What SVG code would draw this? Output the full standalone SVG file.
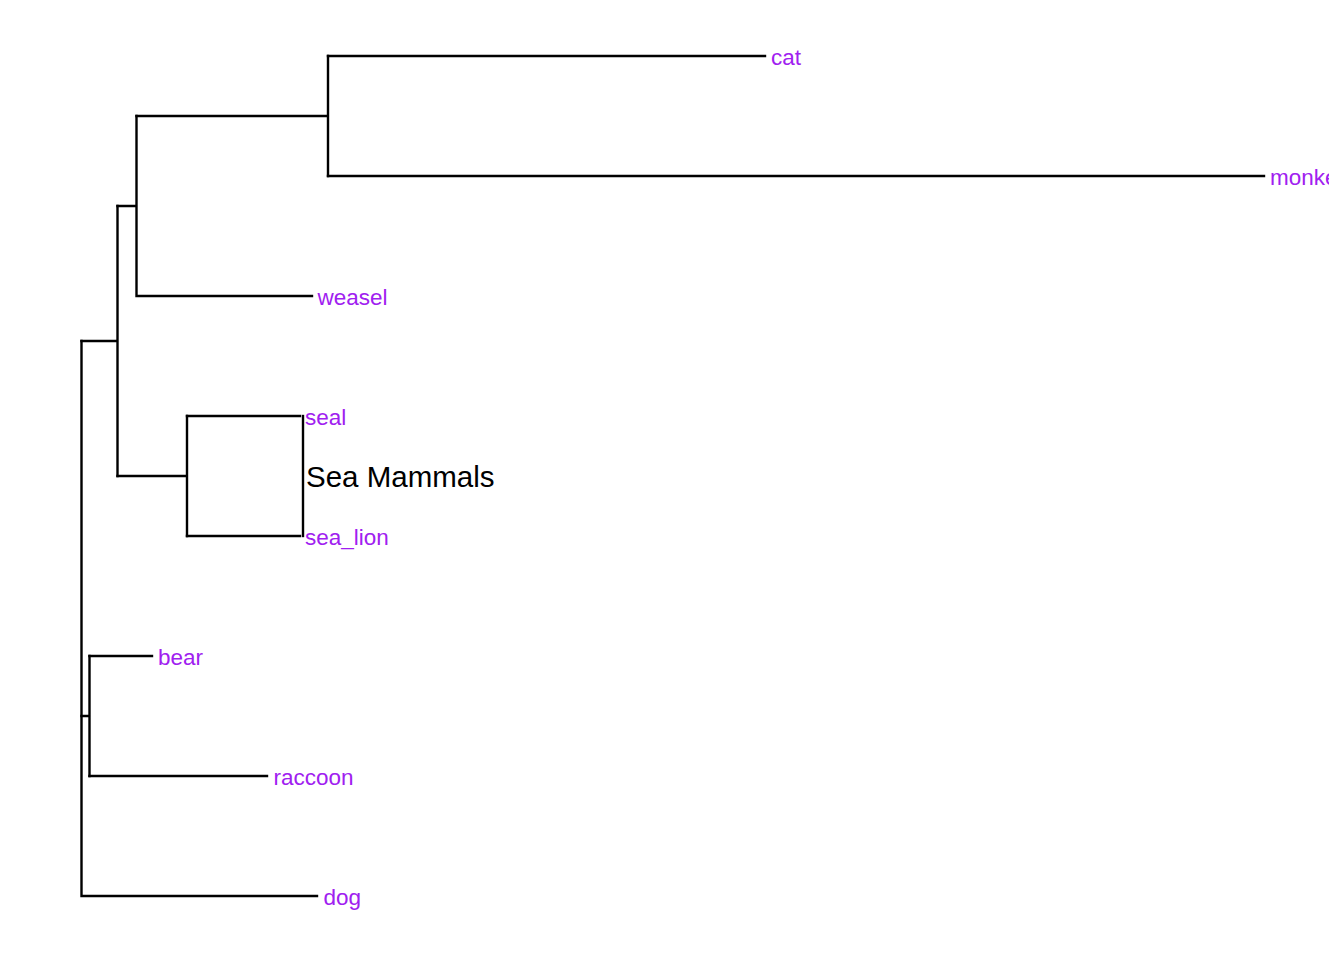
<svg xmlns="http://www.w3.org/2000/svg" width="1344" height="960" viewBox="0 0 1344 960">
<style>
.e{stroke:#000;stroke-width:2.4;fill:none;stroke-linecap:square}
.t{font-family:"Liberation Sans",Arial,sans-serif;font-size:22.5px;fill:#A020F0}
.c{font-family:"Liberation Sans",Arial,sans-serif;font-size:29.5px;fill:#000}
</style>
<defs><clipPath id="clip"><rect x="0" y="0" width="1329" height="960"/></clipPath></defs>
<rect width="1344" height="960" fill="#fff"/>
<g id="connectors" class="e">
<path d="M81.5,341 V896 H317"/>
<path d="M81.5,341 H117.5 M117.5,206 V476"/>
<path d="M117.5,206 H136.5 M136.5,116 V296 H312"/>
<path d="M136.5,116 H328 M328,56 V176"/>
<path d="M328,56 H765"/>
<path d="M328,176 H1264"/>
<path d="M117.5,476 H187 M187,416 V536"/>
<path d="M187,416 H300"/>
<path d="M187,536 H300"/>
<path d="M81.5,716 H89.5 M89.5,656 V776"/>
<path d="M89.5,656 H152"/>
<path d="M89.5,776 H267"/>
</g>
<g id="node-cat"><text class="t" x="771" y="65">cat</text></g>
<g id="node-monkey" clip-path="url(#clip)"><text class="t" x="1270" y="185">monkey</text></g>
<g id="node-weasel"><text class="t" x="317.5" y="305">weasel</text></g>
<g id="node-seal"><text class="t" x="305" y="425">seal</text></g>
<g id="node-sea_lion"><text class="t" x="305" y="545">sea_lion</text></g>
<g id="node-bear"><text class="t" x="158" y="665">bear</text></g>
<g id="node-raccoon"><text class="t" x="273.5" y="785">raccoon</text></g>
<g id="node-dog"><text class="t" x="323.5" y="905">dog</text></g>
<g id="clade-sea-mammals">
<path class="e" d="M303,416 V536"/>
<text class="c" x="306" y="487">Sea Mammals</text>
</g>
</svg>
